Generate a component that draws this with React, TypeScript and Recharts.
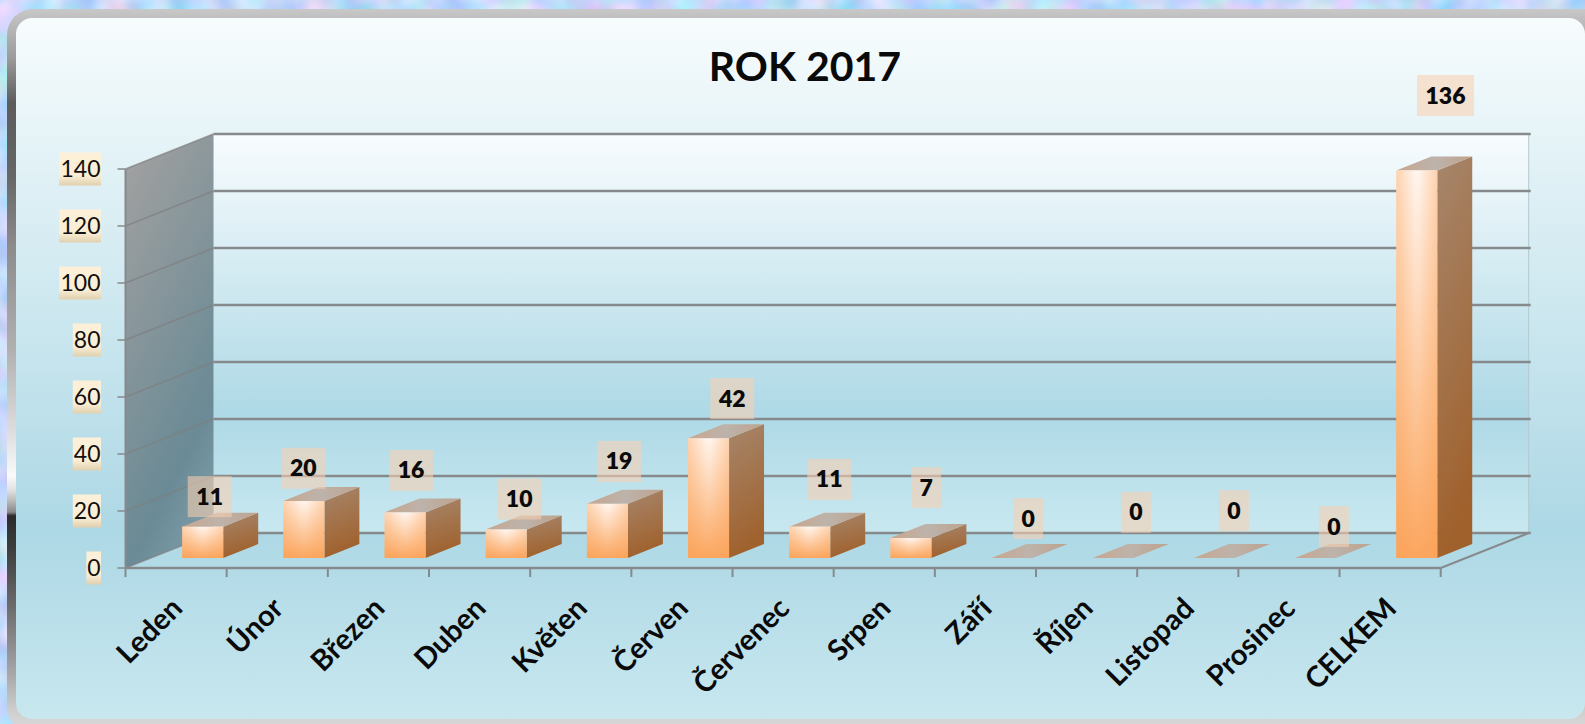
import React from "react";
import {
  Bar,
  BarChart,
  CartesianGrid,
  LabelList,
  XAxis,
  YAxis,
} from "recharts";

const months = [
  "Leden",
  "Únor",
  "Březen",
  "Duben",
  "Květen",
  "Červen",
  "Červenec",
  "Srpen",
  "Září",
  "Říjen",
  "Listopad",
  "Prosinec",
  "CELKEM",
];
const values = [11, 20, 16, 10, 19, 42, 11, 7, 0, 0, 0, 0, 136];
const yTicks = [0, 20, 40, 60, 80, 100, 120, 140];

const chartData = months.map((name, i) => ({ name, value: values[i] }));

// the labels were dragged by hand in the original, so each has its own offset
const labelShiftX = [7, -0.5, 6, 13, 11.7, 23.7, 19.5, 15.3, 16, 22.7, 19.5, 18.3, 28.8];
const labelShiftY = [-30, -32.7, -42, -30.5, -42.4, -39.8, -47.2, -50.5, -39.5, -45.7, -47.3, -31.5, -74.9];

const W = 1585;
const H = 724;
const PLOT_LEFT = 125.5;
const PLOT_TOP = 169;
const PLOT_RIGHT = 1440.7;
const PLOT_BOTTOM = 568;
const BAND = (PLOT_RIGHT - PLOT_LEFT) / months.length;

// depth of the fake 3D box
const WALL_DX = 88;
const WALL_DY = -35;
const BAR_SHIFT_X = 26.7;
const BAR_SHIFT_Y = -10;
const BAR_DX = 35;
const BAR_DY = -14;

const FONT = "Lato, Carlito, sans-serif";
const LINE = "#868a8d";

const Defs = () => (
  <defs>
    <filter id="noise" x="0" y="0" width="100%" height="100%" colorInterpolationFilters="sRGB">
      <feTurbulence type="fractalNoise" baseFrequency="0.03" numOctaves={2} seed={4} />
      <feColorMatrix
        type="matrix"
        values="0.6 0 0 0 0.47  0 0.3 0 0 0.7  0 0 0.2 0 0.88  0 0 0 0 1"
      />
    </filter>
    <linearGradient id="frame" x1="0" y1="0" x2="0" y2="1">
      <stop offset="0" stopColor="#c8c8c8" />
      <stop offset="0.07" stopColor="#999999" />
      <stop offset="0.13" stopColor="#5c5c5c" />
      <stop offset="0.23" stopColor="#666666" />
      <stop offset="0.33" stopColor="#8c8c8c" />
      <stop offset="0.47" stopColor="#b0b0b0" />
      <stop offset="0.59" stopColor="#e0e0e0" />
      <stop offset="0.645" stopColor="#fafafa" />
      <stop offset="0.665" stopColor="#e0e0e0" />
      <stop offset="0.68" stopColor="#b8b8b8" />
      <stop offset="0.695" stopColor="#888888" />
      <stop offset="0.7" stopColor="#2b2b2b" />
      <stop offset="0.75" stopColor="#404040" />
      <stop offset="0.83" stopColor="#6e6e6e" />
      <stop offset="0.92" stopColor="#a8a8a8" />
      <stop offset="0.97" stopColor="#cfcfcf" />
      <stop offset="1" stopColor="#dcdcdc" />
    </linearGradient>
    <linearGradient id="panel" x1="0" y1="0" x2="0" y2="1">
      <stop offset="0" stopColor="#f7fcfd" />
      <stop offset="0.73" stopColor="#add8e5" />
      <stop offset="1" stopColor="#c8e7ef" />
    </linearGradient>
    <linearGradient id="backWall" x1="0" y1="0" x2="0" y2="1">
      <stop offset="0" stopColor="#f8fcfe" />
      <stop offset="0.7" stopColor="#aed9e6" />
      <stop offset="1" stopColor="#c8e8f0" />
    </linearGradient>
    <linearGradient id="sideWall" x1="0.2" y1="0" x2="0.6" y2="1">
      <stop offset="0" stopColor="#a0a0a0" />
      <stop offset="0.8" stopColor="#6a8a95" />
      <stop offset="1" stopColor="#7a9aa5" />
    </linearGradient>
    <linearGradient id="barFront" x1="0" y1="0" x2="0" y2="1">
      <stop offset="0" stopColor="#fff4ec" />
      <stop offset="1" stopColor="#fba65f" />
    </linearGradient>
    <linearGradient id="barEdge" x1="0" y1="0" x2="1" y2="0">
      <stop offset="0" stopColor="#fb9f52" stopOpacity={0.4} />
      <stop offset="0.45" stopColor="#fb9f52" stopOpacity={0} />
      <stop offset="0.55" stopColor="#fb9f52" stopOpacity={0} />
      <stop offset="1" stopColor="#fb9f52" stopOpacity={0.4} />
    </linearGradient>
    <linearGradient id="barSide" x1="0" y1="0" x2="0.2" y2="1">
      <stop offset="0" stopColor="#a6866c" />
      <stop offset="1" stopColor="#a0612c" />
    </linearGradient>
    <linearGradient id="barTop" x1="0" y1="0" x2="1" y2="0">
      <stop offset="0" stopColor="#c8a68e" />
      <stop offset="0.5" stopColor="#bdb3ab" />
      <stop offset="1" stopColor="#bea28c" />
    </linearGradient>
    <linearGradient id="tickBox" x1="0" y1="0" x2="0" y2="1">
      <stop offset="0" stopColor="#fdf0d8" />
      <stop offset="0.7" stopColor="#fbeed6" />
      <stop offset="1" stopColor="#dfd0ae" />
    </linearGradient>
  </defs>
);

// everything behind the chart: page texture, frame, panel and the two walls
const Backdrop = () => {
  const backLeft = PLOT_LEFT + WALL_DX;
  const backRight = PLOT_RIGHT + WALL_DX;
  const backTop = PLOT_TOP + WALL_DY;
  const backBottom = PLOT_BOTTOM + WALL_DY;
  return (
    <svg width={W} height={H} style={{ position: "absolute", left: 0, top: 0 }}>
      <Defs />
      <rect x={0} y={0} width={W} height={H} filter="url(#noise)" />
      <rect x={7} y={9} width={W + 20} height={H} rx={26} fill="url(#frame)" />
      <rect x={16} y={18} width={W - 16} height={701} rx={16} fill="url(#panel)" />
      <rect
        x={backLeft}
        y={backTop}
        width={backRight - backLeft}
        height={backBottom - backTop}
        fill="url(#backWall)"
      />
      <polygon
        points={`${PLOT_LEFT},${PLOT_TOP} ${backLeft},${backTop} ${backLeft},${backBottom} ${PLOT_LEFT},${PLOT_BOTTOM}`}
        fill="url(#sideWall)"
      />
      <line x1={backRight} y1={backTop} x2={backRight} y2={backBottom} stroke="#b4c8d0" strokeWidth={1} />
      <line x1={PLOT_RIGHT} y1={PLOT_BOTTOM} x2={backRight} y2={backBottom} stroke={LINE} strokeWidth={2} />
    </svg>
  );
};

// one horizontal line of the chart: along the side wall, then along the back wall
const GridLine = (props: any) => {
  const { x1, x2, y1 } = props;
  const backY = y1 + WALL_DY;
  return (
    <g key={props.key}>
      <line
        x1={x1}
        y1={y1}
        x2={x1 + WALL_DX}
        y2={backY}
        stroke="#7f7f7f"
        strokeOpacity={0.7}
        strokeWidth={1.5}
      />
      <line
        x1={x1 + WALL_DX}
        y1={backY}
        x2={x2 + WALL_DX + 2}
        y2={backY}
        stroke={LINE}
        strokeWidth={2.6}
      />
    </g>
  );
};

const YTick = ({ x, y, payload }: any) => {
  const label = String(payload.value);
  const boxW = label.length * 13.6 + 1;
  const right = x - 14.5;
  return (
    <g>
      <rect x={right - boxW} y={y - 16.5} width={boxW} height={33} fill="url(#tickBox)" />
      <text
        x={right - 0.5}
        y={y + 8}
        textAnchor="end"
        fontFamily={FONT}
        fontSize={23}
        fill="#111"
      >
        {label}
      </text>
    </g>
  );
};

const XTick = ({ x, y, payload, index }: any) => {
  const right = x + BAND / 2;
  return (
    <g>
      {index === 0 && (
        <line x1={x - BAND / 2} y1={PLOT_BOTTOM} x2={x - BAND / 2} y2={PLOT_BOTTOM + 9} stroke={LINE} strokeWidth={2} />
      )}
      <line x1={right} y1={PLOT_BOTTOM} x2={right} y2={PLOT_BOTTOM + 9} stroke={LINE} strokeWidth={2} />
      <g transform={`translate(${x + 8},${y + 34})`}>
        <text
          transform="rotate(-45)"
          textAnchor="end"
          fontFamily={FONT}
          fontWeight={700}
          fontSize={29}
          fill="#0a0a0a"
        >
          {payload.value}
        </text>
      </g>
    </g>
  );
};

const Box3D = (props: any) => {
  const { width, height } = props;
  const x = props.x + BAR_SHIFT_X;
  const y = props.y + BAR_SHIFT_Y;
  const right = x + width;
  const side = `${right},${y} ${right + BAR_DX},${y + BAR_DY} ${right + BAR_DX},${y + height + BAR_DY} ${right},${y + height}`;
  const top = `${x},${y} ${x + BAR_DX},${y + BAR_DY} ${right + BAR_DX},${y + BAR_DY} ${right},${y}`;
  return (
    <g>
      {height > 0 && <polygon points={side} fill="url(#barSide)" />}
      <polygon points={top} fill="url(#barTop)" />
      {height > 0 && <rect x={x} y={y} width={width} height={height} fill="url(#barFront)" />}
      {height > 0 && <rect x={x} y={y} width={width} height={height} fill="url(#barEdge)" />}
    </g>
  );
};

const DataLabel = (props: any) => {
  const { x, y, width, value, index } = props;
  const cx = x + width / 2 + BAR_SHIFT_X + labelShiftX[index];
  const cy = y + BAR_SHIFT_Y + labelShiftY[index];
  const label = String(value);
  const boxW = label.length === 1 ? 30 : label.length === 2 ? 44 : 57;
  return (
    <g>
      <rect x={cx - boxW / 2} y={cy - 20.5} width={boxW} height={41} fill="#f9d0b0" fillOpacity={0.57} />
      <text
        x={cx}
        y={cy + 8}
        textAnchor="middle"
        fontFamily={FONT}
        fontWeight={800}
        fontSize={23}
        fill="#0a0a0a"
      >
        {label}
      </text>
    </g>
  );
};

export default function App() {
  return (
    <div style={{ position: "absolute", left: 0, top: 0, width: W, height: H, overflow: "hidden" }}>
      <Backdrop />
      <div style={{ position: "absolute", left: 0, top: 0 }}>
        <BarChart
          width={W}
          height={H}
          data={chartData}
          barSize={41}
          margin={{ top: PLOT_TOP, right: W - PLOT_RIGHT, left: 0, bottom: 0 }}
        >
          <CartesianGrid horizontal={GridLine} vertical={false} />
          <XAxis
            dataKey="name"
            height={H - PLOT_BOTTOM}
            interval={0}
            tickLine={false}
            axisLine={{ stroke: LINE, strokeWidth: 2.5 }}
            tick={<XTick />}
          />
          <YAxis
            width={PLOT_LEFT}
            domain={[0, 140]}
            ticks={yTicks}
            interval={0}
            tickSize={8}
            axisLine={{ stroke: LINE, strokeWidth: 2 }}
            tickLine={{ stroke: LINE, strokeWidth: 1.5 }}
            tick={<YTick />}
          />
          <Bar dataKey="value" shape={<Box3D />} isAnimationActive={false}>
            <LabelList dataKey="value" content={<DataLabel />} />
          </Bar>
          <text
            x={805}
            y={81}
            textAnchor="middle"
            fontFamily={FONT}
            fontWeight={700}
            fontSize={41}
            fill="#0a0a0a"
          >
            ROK 2017
          </text>
        </BarChart>
      </div>
    </div>
  );
}
